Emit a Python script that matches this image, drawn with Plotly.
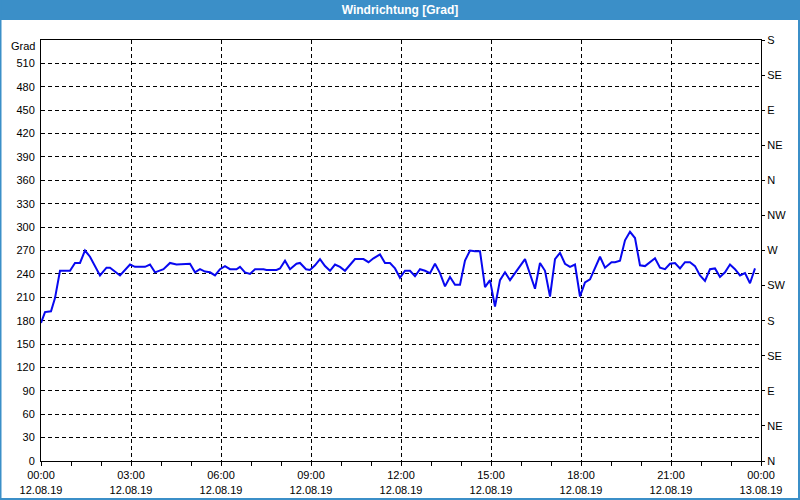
import plotly.graph_objects as go
import pandas as pd

# Data (time of day on 12.08.2019, wind direction in degrees)
times = ["00:00","00:08","00:20","00:28","00:38","00:58","01:08","01:18","01:28","01:38",
         "01:58","02:11","02:18","02:38","02:58","03:08","03:28","03:38","03:48","04:05",
         "04:18","04:31","04:58","05:08","05:18","05:28","05:38","05:48","05:58","06:08",
         "06:18","06:31","06:38","06:48","06:58","07:08","07:25","07:31","07:51","07:58",
         "08:08","08:18","08:31","08:38","08:50","08:58","09:08","09:18","09:28","09:38",
         "09:48","09:58","10:08","10:18","10:28","10:45","10:55","11:05","11:18","11:28",
         "11:38","11:48","11:58","12:08","12:18","12:28","12:38","12:48","12:58","13:08",
         "13:18","13:28","13:38","13:48","13:58","14:08","14:18","14:28","14:38","14:48",
         "14:58","15:08","15:18","15:28","15:38","16:08","16:28","16:38","16:48","16:58",
         "17:08","17:18","17:28","17:38","17:48","17:58","18:08","18:18","18:28","18:38",
         "18:48","19:01","19:08","19:18","19:28","19:38","19:48","19:58","20:08","20:18",
         "20:28","20:38","20:48","20:58","21:08","21:18","21:28","21:38","21:48","21:58",
         "22:08","22:18","22:28","22:38","22:48","22:58","23:08","23:18","23:28","23:38",
         "23:48"]
values = [177,191,192,209,244,244,254,254,270,262,
          238,248,248,238,252,249,249,252,242,246,
          254,252,253,242,246,243,242,238,246,250,
          246,246,249,242,240,246,246,245,245,247,
          257,246,253,254,246,245,251,259,250,244,
          252,249,244,252,259,259,255,260,265,254,
          254,247,235,244,244,237,246,244,241,253,
          241,224,236,226,226,257,270,269,269,223,
          232,198,232,242,232,259,221,254,244,211,
          259,267,253,249,252,211,229,233,248,262,
          248,255,255,257,283,294,286,251,250,255,
          260,248,246,253,254,247,255,255,250,238,
          231,246,247,236,242,252,246,238,241,228,
          247]

left_ticks = list(range(0, 511, 30))
right_ticks = list(range(0, 541, 45))
right_labels = ["N", "NE", "E", "SE", "S", "SW", "W", "NW", "N", "NE", "E", "SE", "S"]

title_text = "Windrichtung [Grad]"
unit_text = "Grad"

x = pd.to_datetime(["2019-08-12 " + t for t in times])

W, H = 800, 500
L, R, T, B = 41, 39, 40, 39
pw, ph = W - L - R, H - T - B


def px(xp):
    return (xp - L) / pw


def py(yp):
    return (H - B - yp) / ph


FONT = "Liberation Sans"
BLUE = "#3b8fc8"

fig = go.Figure()
fig.add_trace(go.Scatter(x=x, y=values, mode="lines",
                         line=dict(color="#0808f0", width=2), showlegend=False))
fig.add_trace(go.Scatter(x=x, y=values, mode="lines", yaxis="y2",
                         line=dict(color="rgba(0,0,0,0)", width=0),
                         hoverinfo="skip", showlegend=False))

shapes = []
for (x0, y0, x1, y1) in [(0, 0, 800, 20), (0, 0, 1.5, 500), (798, 0, 800, 500), (0, 498, 800, 500)]:
    shapes.append(dict(type="rect", xref="paper", yref="paper",
                       x0=px(x0), x1=px(x1), y0=py(y1), y1=py(y0),
                       fillcolor=BLUE, line=dict(width=0), layer="below"))

grid = dict(showgrid=True, gridcolor="#000000", gridwidth=1, griddash="4px,3px")

fig.update_layout(
    width=W, height=H,
    margin=dict(l=L, r=R, t=T, b=B, pad=0, autoexpand=False),
    paper_bgcolor="white", plot_bgcolor="white",
    font=dict(family=FONT, size=11, color="#000000"),
    title=dict(text="<b>" + title_text + "</b>", x=0.5, xref="container",
               y=1 - 10 / H, yref="container", xanchor="center", yanchor="middle",
               font=dict(family=FONT, size=12, color="white")),
    shapes=shapes,
    xaxis=dict(type="date", range=["2019-08-12 00:00", "2019-08-13 00:00"],
               dtick=3 * 3600000, tick0="2019-08-12 00:00",
               tickformat="%H:%M<br>%d.%m.%y", automargin=False,
               ticks="outside", ticklen=4, tickcolor="#000",
               minor=dict(dtick=3600000, ticks="outside", ticklen=4, tickcolor="#000", showgrid=False),
               showline=True, linecolor="#000", linewidth=1, mirror=True,
               zeroline=False, **grid),
    yaxis=dict(range=[0, 540], tickvals=left_ticks, ticks="", showline=True,
               linecolor="#000", linewidth=1, mirror=True, zeroline=False,
               ticklabelstandoff=3, automargin=False, **grid),
    yaxis2=dict(range=[0, 540], overlaying="y", side="right", tickvals=right_ticks,
                ticktext=right_labels, ticks="outside", ticklen=3, tickcolor="#000",
                showgrid=False, zeroline=False, showline=True, linecolor="#000",
                automargin=False),
    annotations=[dict(text=unit_text, xref="paper", yref="paper", x=px(37), y=py(46),
                      xanchor="right", yanchor="middle", showarrow=False,
                      font=dict(family=FONT, size=11, color="#000"))],
)

fig.write_html("out.html")
